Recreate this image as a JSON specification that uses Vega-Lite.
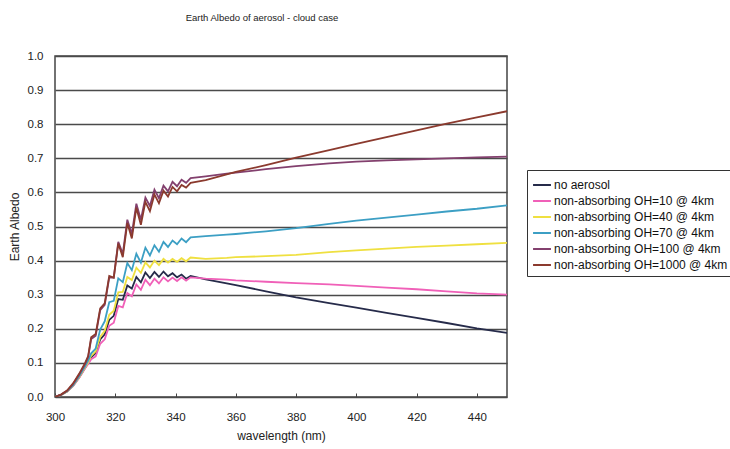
{
  "$schema": "https://vega.github.io/schema/vega-lite/v6.json",
  "width": 452,
  "height": 341,
  "autosize": {"type": "none"},
  "padding": {"left": 55, "top": 56, "right": 223, "bottom": 52},
  "background": "#ffffff",
  "config": {
    "font": "Liberation Sans",
    "view": {"stroke": "#444", "strokeWidth": 1.5},
    "axis": {"labelFont": "Liberation Sans", "titleFont": "Liberation Sans", "labelColor": "#222", "titleColor": "#222", "labelFontSize": 11.5, "titleFontSize": 12, "titleFontWeight": "normal"}
  },
  "title": {"text": "Earth Albedo of aerosol - cloud case", "font": "Liberation Sans", "fontSize": 9.5, "fontWeight": "normal", "color": "#222", "anchor": "middle", "dx": -19, "offset": 28},
  "datasets": {
    "names": [
      {"k": "N", "name": "no aerosol"},
      {"k": "P", "name": "non-absorbing OH=10 @ 4km"},
      {"k": "Y", "name": "non-absorbing OH=40 @ 4km"},
      {"k": "T", "name": "non-absorbing OH=70 @ 4km"},
      {"k": "U", "name": "non-absorbing OH=100 @ 4km"},
      {"k": "B", "name": "non-absorbing OH=1000 @ 4km"}
    ]
  },
  "data": {"values": [
    {"wl": 300, "N": 0, "P": 0, "Y": 0, "T": 0, "U": 0, "B": 0},
    {"wl": 302, "N": 0.006, "P": 0.006, "Y": 0.006, "T": 0.006, "U": 0.007, "B": 0.007},
    {"wl": 304, "N": 0.016, "P": 0.016, "Y": 0.016, "T": 0.017, "U": 0.018, "B": 0.019},
    {"wl": 306, "N": 0.033, "P": 0.032, "Y": 0.033, "T": 0.034, "U": 0.038, "B": 0.04},
    {"wl": 308, "N": 0.057, "P": 0.056, "Y": 0.058, "T": 0.06, "U": 0.065, "B": 0.068},
    {"wl": 310, "N": 0.086, "P": 0.084, "Y": 0.087, "T": 0.09, "U": 0.097, "B": 0.1},
    {"wl": 311, "N": 0.1, "P": 0.097, "Y": 0.102, "T": 0.107, "U": 0.117, "B": 0.12},
    {"wl": 312, "N": 0.116, "P": 0.111, "Y": 0.121, "T": 0.128, "U": 0.17, "B": 0.175},
    {"wl": 313.5, "N": 0.129, "P": 0.119, "Y": 0.134, "T": 0.142, "U": 0.18, "B": 0.185},
    {"wl": 315, "N": 0.169, "P": 0.156, "Y": 0.176, "T": 0.198, "U": 0.255, "B": 0.26},
    {"wl": 316.5, "N": 0.184, "P": 0.169, "Y": 0.194, "T": 0.222, "U": 0.27, "B": 0.275},
    {"wl": 318, "N": 0.226, "P": 0.209, "Y": 0.241, "T": 0.278, "U": 0.35, "B": 0.355},
    {"wl": 319.5, "N": 0.238, "P": 0.218, "Y": 0.253, "T": 0.282, "U": 0.35, "B": 0.35},
    {"wl": 321, "N": 0.287, "P": 0.267, "Y": 0.307, "T": 0.348, "U": 0.455, "B": 0.45},
    {"wl": 322.5, "N": 0.285, "P": 0.263, "Y": 0.308, "T": 0.337, "U": 0.42, "B": 0.41},
    {"wl": 324, "N": 0.327, "P": 0.305, "Y": 0.352, "T": 0.393, "U": 0.52, "B": 0.51},
    {"wl": 325.5, "N": 0.318, "P": 0.295, "Y": 0.343, "T": 0.372, "U": 0.478, "B": 0.465},
    {"wl": 327, "N": 0.352, "P": 0.33, "Y": 0.379, "T": 0.42, "U": 0.567, "B": 0.555},
    {"wl": 328.5, "N": 0.336, "P": 0.314, "Y": 0.364, "T": 0.394, "U": 0.52, "B": 0.505},
    {"wl": 330, "N": 0.365, "P": 0.344, "Y": 0.395, "T": 0.438, "U": 0.585, "B": 0.572},
    {"wl": 331.5, "N": 0.349, "P": 0.328, "Y": 0.38, "T": 0.415, "U": 0.56, "B": 0.545},
    {"wl": 333, "N": 0.367, "P": 0.347, "Y": 0.4, "T": 0.445, "U": 0.608, "B": 0.594},
    {"wl": 334.5, "N": 0.352, "P": 0.333, "Y": 0.387, "T": 0.426, "U": 0.583, "B": 0.568},
    {"wl": 336, "N": 0.368, "P": 0.351, "Y": 0.405, "T": 0.455, "U": 0.62, "B": 0.605},
    {"wl": 337.5, "N": 0.354, "P": 0.339, "Y": 0.394, "T": 0.44, "U": 0.603, "B": 0.588},
    {"wl": 339, "N": 0.363, "P": 0.35, "Y": 0.405, "T": 0.459, "U": 0.631, "B": 0.616},
    {"wl": 340.5, "N": 0.351, "P": 0.34, "Y": 0.396, "T": 0.448, "U": 0.618, "B": 0.603},
    {"wl": 342, "N": 0.359, "P": 0.351, "Y": 0.407, "T": 0.465, "U": 0.637, "B": 0.622},
    {"wl": 343.5, "N": 0.347, "P": 0.341, "Y": 0.398, "T": 0.454, "U": 0.628, "B": 0.614},
    {"wl": 345, "N": 0.355, "P": 0.351, "Y": 0.409, "T": 0.468, "U": 0.642, "B": 0.628},
    {"wl": 350, "N": 0.345, "P": 0.347, "Y": 0.405, "T": 0.472, "U": 0.647, "B": 0.636},
    {"wl": 357, "N": 0.333, "P": 0.344, "Y": 0.408, "T": 0.476, "U": 0.655, "B": 0.653},
    {"wl": 360, "N": 0.328, "P": 0.342, "Y": 0.41, "T": 0.478, "U": 0.658, "B": 0.66},
    {"wl": 370, "N": 0.31, "P": 0.338, "Y": 0.413, "T": 0.486, "U": 0.668, "B": 0.68},
    {"wl": 380, "N": 0.292, "P": 0.334, "Y": 0.417, "T": 0.495, "U": 0.677, "B": 0.702},
    {"wl": 391, "N": 0.275, "P": 0.33, "Y": 0.425, "T": 0.508, "U": 0.685, "B": 0.724},
    {"wl": 400, "N": 0.262, "P": 0.326, "Y": 0.43, "T": 0.517, "U": 0.69, "B": 0.742},
    {"wl": 410, "N": 0.247, "P": 0.321, "Y": 0.435, "T": 0.526, "U": 0.694, "B": 0.762},
    {"wl": 420, "N": 0.232, "P": 0.316, "Y": 0.44, "T": 0.535, "U": 0.697, "B": 0.782},
    {"wl": 430, "N": 0.217, "P": 0.31, "Y": 0.444, "T": 0.544, "U": 0.7, "B": 0.802},
    {"wl": 440, "N": 0.201, "P": 0.304, "Y": 0.448, "T": 0.552, "U": 0.703, "B": 0.82},
    {"wl": 450, "N": 0.188, "P": 0.3, "Y": 0.452, "T": 0.562, "U": 0.705, "B": 0.838}
  ]},
  "transform": [
    {"fold": ["N", "P", "Y", "T", "U", "B"], "as": ["k", "albedo"]},
    {"lookup": "k", "from": {"data": {"name": "names"}, "key": "k", "fields": ["name"]}}
  ],
  "mark": {"type": "line", "strokeWidth": 1.8, "clip": true},
  "encoding": {
    "x": {
      "field": "wl", "type": "quantitative",
      "scale": {"domain": [300, 450], "nice": false},
      "axis": {"values": [300, 320, 340, 360, 380, 400, 420, 440], "grid": false, "domain": false, "tickSize": -4, "tickColor": "#444", "labelFlush": false, "labelPadding": 18, "title": "wavelength (nm)", "titlePadding": 8}
    },
    "y": {
      "field": "albedo", "type": "quantitative",
      "scale": {"domain": [0, 1], "nice": false},
      "axis": {"values": [0, 0.1, 0.2, 0.3, 0.4, 0.5, 0.6, 0.7, 0.8, 0.9, 1.0], "format": ".1f", "grid": true, "gridColor": "#4a4a4a", "gridWidth": 1.4, "gridOpacity": 1, "domain": false, "ticks": false, "labelFlush": false, "labelPadding": 12, "title": "Earth Albedo", "titlePadding": 6}
    },
    "color": {
      "field": "name", "type": "nominal",
      "scale": {
        "domain": ["no aerosol", "non-absorbing OH=10 @ 4km", "non-absorbing OH=40 @ 4km", "non-absorbing OH=70 @ 4km", "non-absorbing OH=100 @ 4km", "non-absorbing OH=1000 @ 4km"],
        "range": ["#262b4a", "#f060b8", "#efe040", "#3c9fc4", "#83406e", "#8b3a2e"]
      },
      "legend": {
        "title": null, "orient": "none", "legendX": 472, "legendY": 114,
        "strokeColor": "#333", "padding": 5, "symbolType": "stroke", "symbolSize": 320, "symbolStrokeWidth": 2,
        "labelFont": "Liberation Sans", "labelFontSize": 12, "labelColor": "#111", "labelOffset": 2, "rowPadding": 0, "labelLimit": 300
      }
    }
  }
}
